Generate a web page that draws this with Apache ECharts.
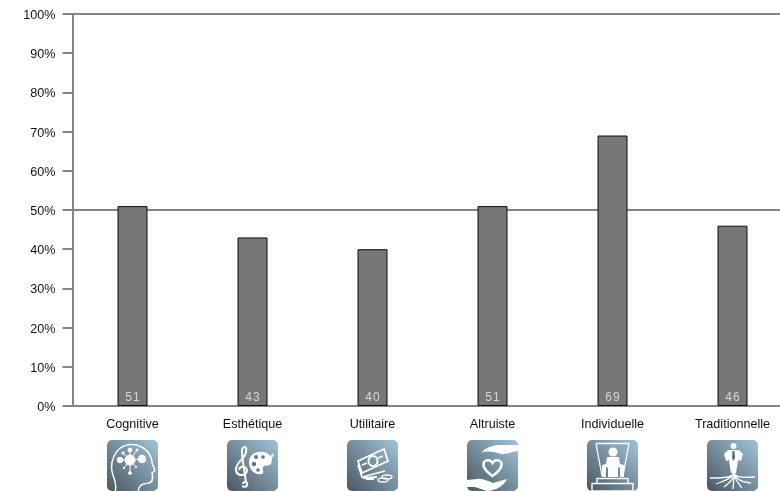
<!DOCTYPE html>
<html>
<head>
<meta charset="utf-8">
<style>html,body{margin:0;padding:0;background:#fff}#c{width:780px;height:491px}</style>
<script src="https://cdn.jsdelivr.net/npm/echarts@6/dist/echarts.min.js"></script>
</head>
<body>
<div id="c"></div>
<script>
const categories = ['Cognitive','Esthétique','Utilitaire','Altruiste','Individuelle','Traditionnelle'];
const values = [51,43,40,51,69,46];

const FONT = '"Liberation Sans", Arial, sans-serif';
const glyphs = [
  '<path d="M8 52C10 46 8 40 6 35C2 24 7 6 23 4.500C35 4 44 12 45 22C45 26 49 29 47.500 31L45 33C46 37 46 42 42 43C37 44 32 43 31 52" fill="none" stroke="#fff" stroke-width="1.500"/>'+
  '<g stroke="#fff" stroke-width="1" fill="#fff"><path d="M23 20L13 20M23 20L35 19M23 20L23 10M23 20L23 33M23 20L16 13M23 20L30 10M23 20L17 28M23 20L29 27"/><circle cx="23" cy="20" r="5"/><circle cx="13" cy="20" r="2.800"/><circle cx="35" cy="19" r="3.800"/><circle cx="23" cy="10" r="2"/><circle cx="23" cy="33" r="1.500"/><circle cx="16" cy="13" r="1.200"/><circle cx="30" cy="10" r="1"/><circle cx="17" cy="28" r="0.800"/><circle cx="29" cy="27" r="0.800"/></g>',
  '<path d="M15 46C18 48 21 46 20 43C19 41 16 42 16 44M15 9C18 5 20 7 19 12C18 19 8 23 9 30C10 37 19 36 20 31C20 26 13 25 12 30M15 9C14 14 18 32 19 43" fill="none" stroke="#fff" stroke-width="2"/>'+
  '<path d="M22 22C22 14 30 11 37 12C44 13 46 20 44 24C41 27 38 24 36 27C35 30 38 32 35 34C27 35 22 30 22 22Z" fill="#fff"/>'+
  '<g fill="#61747f"><circle cx="29" cy="17" r="2"/><circle cx="27" cy="24" r="2.200"/><circle cx="36" cy="17" r="1.800"/><circle cx="31" cy="30" r="1.800"/></g>'+
  '<path d="M46 14L41 24" stroke="#fff" stroke-width="2"/>',
  '<g fill="none" stroke="#fff" stroke-width="1.800"><path d="M11 21L37 9L41 21L15 33Z"/><path d="M11 25L15 37L38 31M16 38L30 37M19 39L27 39"/></g>'+
  '<g fill="none" stroke="#fff" stroke-width="1.300"><ellipse cx="40" cy="37" rx="5" ry="2"/><ellipse cx="36" cy="40" rx="5" ry="2"/></g>'+
  '<ellipse cx="26" cy="21" rx="4.500" ry="5" fill="none" stroke="#fff" stroke-width="2"/><path d="M15 25L20 23M31 18L36 16" stroke="#fff" stroke-width="1.500"/>',
  '<path d="M14 13C18 8 24 6 30 5L51 5L51 11C44 12 38 15 34 14C28 12 20 10 14 13Z" fill="#fff"/>'+
  '<path d="M25.500 36C17 30 15 26 17 22C20 19 24 20 25.500 23C27 20 31 19 34 22C36 26 34 30 25.500 36Z" fill="none" stroke="#fff" stroke-width="2.400"/>'+
  '<path d="M0 40L10 39C16 38 20 41 26 43L40 39C37 46 28 51 20 51L8 47L0 47Z" fill="#fff"/>',
  '<path d="M9 3.500L42 3.500L36 36M9 3.500L15 36" fill="none" stroke="#fff" stroke-width="1.300"/>'+
  '<circle cx="26" cy="12" r="4.500" fill="#fff"/><path d="M20 17L32 17L33 24L37 25L37 37L33 37L33 27L31 28L31 37L21 37L21 28L19 27L19 37L15 37L15 25L19 24Z" fill="#fff"/>'+
  '<path d="M10 38.500L41 38.500L41 43.500L10 43.500ZM5 43.500L46 43.500L46 51L5 51Z" fill="none" stroke="#fff" stroke-width="1.400"/>',
  '<circle cx="26.500" cy="6" r="3" fill="#fff"/><path d="M21 10L32 10L36 14L34 21L31 20L30 27L29 33L24 33L23 27L22 20L19 21L17 14Z" fill="#fff"/>'+
  '<path d="M25.500 11L27.500 11L28 18L26.500 21L25 18Z" fill="#5b6e7a"/>'+
  '<path d="M26.500 32C27 38 16 38 3 38M26 35C22 40 16 41 9 44M27 36C25 41 21 44 17 47M27 36L26 49M27 35C29 41 32 44 35 48M27 34C30 40 35 42 44 43M27 33C28 37 36 38 48 37" fill="none" stroke="#fff" stroke-width="1.300"/>'
];
function iconUri(g,i){
  const svg = '<svg xmlns="http://www.w3.org/2000/svg" width="51" height="51" viewBox="0 0 51 51">'+
   '<defs><linearGradient id="g'+i+'" x1="0" y1="1" x2="1" y2="0"><stop offset="0" stop-color="#4a5861"/><stop offset="1" stop-color="#a0c3da"/></linearGradient>'+
   '<clipPath id="k'+i+'"><rect width="51" height="51" rx="5"/></clipPath></defs>'+
   '<g clip-path="url(#k'+i+')"><rect width="51" height="51" fill="url(#g'+i+')"/>'+g+'</g></svg>';
  return 'data:image/svg+xml;charset=utf-8,'+encodeURIComponent(svg);
}

const chart = echarts.init(document.getElementById('c'), null, {renderer:'canvas'});
const lineGrey = '#858585';
chart.setOption({
  animation:false,
  backgroundColor:'#fff',
  grid:{left:72.5,top:14,right:-12.5,bottom:85,containLabel:false,outerBoundsMode:'none'},
  xAxis:{type:'category',data:categories,
    axisLine:{show:true,onZero:false,lineStyle:{color:lineGrey,width:2}},
    axisTick:{show:false},
    axisLabel:{color:'#111',fontFamily:FONT,fontSize:12.6,margin:12,interval:0},
    splitLine:{show:false}},
  yAxis:[{type:'value',min:0,max:100,interval:10,
    axisLine:{show:true,lineStyle:{color:lineGrey,width:2}},
    axisTick:{show:true,length:10,lineStyle:{color:lineGrey,width:2}},
    axisLabel:{margin:17,formatter:'{a|{value}%}',
      rich:{a:{color:'#111',fontFamily:FONT,fontSize:12.6,padding:[3,0,0,0]}}},
    splitLine:{show:false}},
   {type:'value',min:0,max:100,interval:50,position:'left',
    axisLine:{show:false},axisTick:{show:false},axisLabel:{show:false},
    splitLine:{show:true,lineStyle:{color:lineGrey,width:2}}}],
  series:[{type:'bar',data:values,barWidth:30,yAxisIndex:0,
    itemStyle:{color:'#777777',borderColor:'#111',borderWidth:1},
    label:{show:true,position:'insideBottom',distance:2,color:'#d8d8d8',fontFamily:FONT,fontSize:12,
      formatter:p=>p.value.toString().split('').join('\u200a')}}]
});
const iconY = 440;
chart.setOption({graphic:{elements:categories.map((c,i)=>({
  type:'image',
  style:{image:iconUri(glyphs[i],i),x:Math.round(chart.convertToPixel({xAxisIndex:0},c)-25.5),y:iconY,width:51,height:51}
}))}});
</script>
</body>
</html>
